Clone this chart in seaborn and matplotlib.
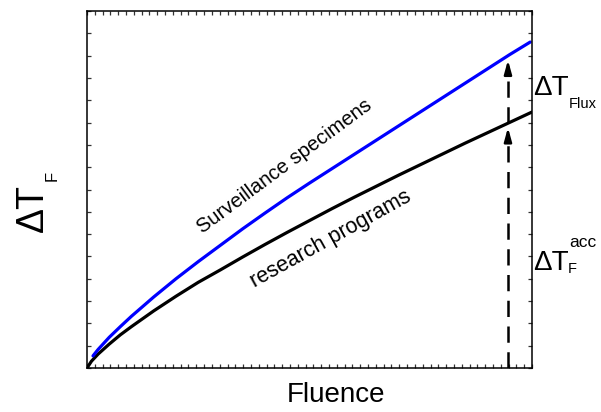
import numpy as np
import pandas as pd
import matplotlib
matplotlib.use("Agg")
import matplotlib.pyplot as plt
from matplotlib.ticker import FixedLocator
import seaborn as sns

# Normalised fluence / transition-temperature-shift readings for the two trends
fluence_research = [0.0, 0.01, 0.025, 0.05, 0.075, 0.1, 0.15, 0.2, 0.25, 0.3, 0.35, 0.4,
                    0.45, 0.5, 0.55, 0.6, 0.65, 0.7, 0.75, 0.8, 0.85, 0.9, 0.95, 1.0]
shift_research = [0.0, 0.019, 0.039, 0.067, 0.093, 0.116, 0.160, 0.201, 0.240, 0.275,
                  0.311, 0.346, 0.380, 0.413, 0.446, 0.478, 0.509, 0.540, 0.570, 0.600,
                  0.630, 0.659, 0.688, 0.717]

fluence_surv = [0.0135, 0.025, 0.05, 0.075, 0.1, 0.15, 0.2, 0.25, 0.3, 0.35, 0.4, 0.45,
                0.5, 0.55, 0.6, 0.65, 0.7, 0.75, 0.8, 0.85, 0.9, 0.95, 0.996]
shift_surv = [0.034, 0.052, 0.086, 0.116, 0.145, 0.199, 0.250, 0.298, 0.344, 0.390,
              0.434, 0.477, 0.518, 0.558, 0.598, 0.638, 0.678, 0.718, 0.758, 0.798,
              0.838, 0.878, 0.913]

# Fluence at which the flux effect and the accelerated shift are indicated
fluence_marker = 0.946

sns.set_style("white")
plt.rcParams["font.family"] = ["Liberation Sans", "DejaVu Sans"]
plt.rcParams["text.color"] = "black"
plt.rcParams["axes.labelcolor"] = "black"

fig = plt.figure(figsize=(6.01, 4.12), dpi=100)
ax = fig.add_axes([87 / 601, 44 / 412, 445 / 601, 357 / 412])

df_r = pd.DataFrame({"fluence": fluence_research, "shift": shift_research})
df_s = pd.DataFrame({"fluence": fluence_surv, "shift": shift_surv})
sns.lineplot(data=df_r, x="fluence", y="shift", ax=ax, color="black", lw=2.3,
             sort=True, estimator=None)
sns.lineplot(data=df_s, x="fluence", y="shift", ax=ax, color="#0000ff", lw=2.3,
             sort=True, estimator=None)

ax.set_xlim(0, 1)
ax.set_ylim(0, 1)

y_res = float(np.interp(fluence_marker, fluence_research, shift_research))
y_sur = float(np.interp(fluence_marker, fluence_surv, shift_surv))

# dashed guide from the axis up to the surveillance curve
dash = (0, (6.5, 3.8))
ax.plot([fluence_marker, fluence_marker], [0, y_res - 0.03], color="black",
        lw=1.8, ls=dash)
ax.plot([fluence_marker, fluence_marker], [y_res, y_sur - 0.03], color="black",
        lw=1.8, ls=dash)
head = dict(arrowstyle="-|>,head_length=0.8,head_width=0.22", color="black",
            lw=1.8, shrinkA=0, shrinkB=0)
ax.annotate("", xy=(fluence_marker, y_res - 0.012), xytext=(fluence_marker, y_res - 0.05),
            arrowprops=head)
ax.annotate("", xy=(fluence_marker, y_sur - 0.012), xytext=(fluence_marker, y_sur - 0.05),
            arrowprops=head)

# frame and inward minor ticks on all sides, no labels
for s in ax.spines.values():
    s.set_visible(True)
    s.set_color("black")
    s.set_linewidth(1.1)
ax.xaxis.set_major_locator(FixedLocator(np.linspace(0, 1, 58)))
ax.yaxis.set_major_locator(FixedLocator(np.linspace(0, 1, 17)))
ax.tick_params(axis="both", which="both", direction="in", length=3, width=0.9,
               top=True, right=True, bottom=True, left=True,
               labelbottom=False, labelleft=False, color="#333333")

ax.set_xlabel("")
ax.set_ylabel("")
fig.text(336 / 601, 1 - 395 / 412, "Fluence", fontsize=20, ha="center", va="center")

# y-axis label: ΔT with subscript F
fig.text(15 / 601, 1 - 208 / 412, "ΔT", rotation=90, fontsize=27,
         ha="left", va="center")
fig.text(45 / 601, 1 - 176 / 412, "F", rotation=90, fontsize=12,
         ha="left", va="center")

# right-hand annotations
fig.text(533 / 601, 1 - 95 / 412, "ΔT", fontsize=20, ha="left", va="baseline")
fig.text(569 / 601, 1 - 108 / 412, "Flux", fontsize=10.5, ha="left", va="baseline")
fig.text(533 / 601, 1 - 270 / 412, "ΔT", fontsize=20, ha="left", va="baseline")
fig.text(569 / 601, 1 - 247 / 412, "acc", fontsize=12.5, ha="left", va="baseline")
fig.text(568 / 601, 1 - 273 / 412, "F", fontsize=10.5, ha="left", va="baseline")

# curve labels
ax.text(0.445, 0.566, "Surveillance specimens", rotation=36.5, fontsize=14.5,
        ha="center", va="center", rotation_mode="anchor")
ax.text(0.548, 0.362, "research programs", rotation=29, fontsize=15.5,
        ha="center", va="center", rotation_mode="anchor")

fig.savefig("out.png", dpi=100)
